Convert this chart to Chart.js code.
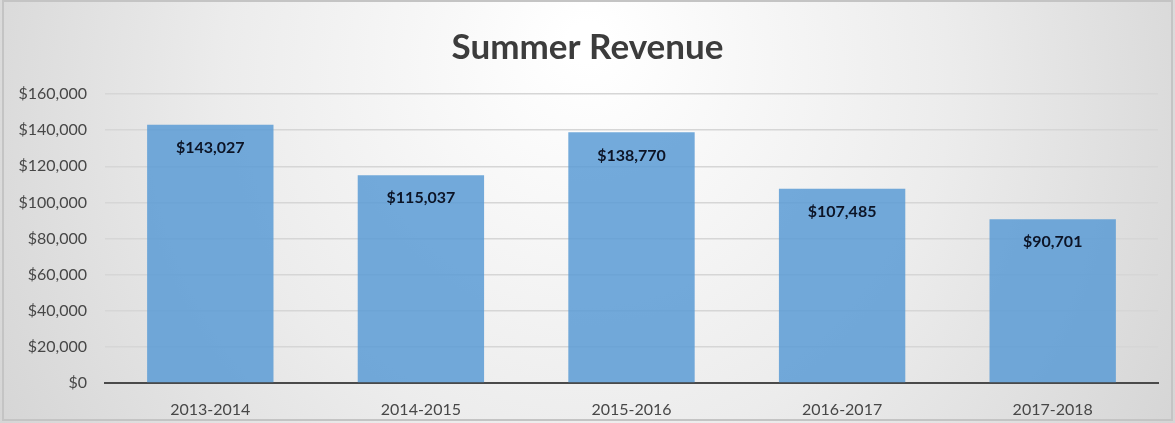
<!DOCTYPE html>
<html>
<head>
<meta charset="utf-8">
<script src="https://cdn.jsdelivr.net/npm/chart.js@4"></script>
<style>
  html, body { margin: 0; padding: 0; background: #fff; }
  #wrap { width: 1175px; height: 423px; }
</style>
</head>
<body>
<div id="wrap"><canvas id="mycanvas" width="1175" height="423"></canvas></div>
<script>
var seasons = ["2013-2014", "2014-2015", "2015-2016", "2016-2017", "2017-2018"];
var revenue = [143027, 115037, 138770, 107485, 90701];
var yTicks = [0, 20000, 40000, 60000, 80000, 100000, 120000, 140000, 160000];

function money(v) {
  return "$" + v.toLocaleString("en-US");
}

// grey backdrop, lighter toward the top middle
var backdrop = {
  id: "backdrop",
  beforeDraw: function(chart) {
    var c = chart.ctx;
    var w = chart.width, h = chart.height;
    c.save();
    var g = c.createRadialGradient(w * 0.5, h * 0.1, 20, w * 0.5, h * 0.3, w * 0.6);
    g.addColorStop(0, "#ffffff");
    g.addColorStop(0.5, "#ececec");
    g.addColorStop(1, "#d2d2d2");
    c.fillStyle = g;
    c.fillRect(0, 0, w, h);
    c.strokeStyle = "#c4c4c4";
    c.lineWidth = 2;
    c.strokeRect(3, 1, w - 6, h - 4);
    c.restore();
  }
};

// value labels just inside the top of each bar
var barLabels = {
  id: "barLabels",
  afterDatasetsDraw: function(chart) {
    var c = chart.ctx;
    var meta = chart.getDatasetMeta(0);
    c.save();
    c.font = "bold 16px Lato";
    c.fillStyle = "#0c1426";
    c.textAlign = "center";
    c.textBaseline = "middle";
    meta.data.forEach(function(bar, i) {
      c.fillText(money(revenue[i]), bar.x, bar.y + 23);
    });
    c.restore();
  }
};

var ctx = document.getElementById("mycanvas");

var chart = new Chart(ctx, {
  type: "bar",
  data: {
    labels: seasons,
    datasets: [{
      label: "Summer Revenue",
      data: revenue,
      backgroundColor: "rgba(91, 155, 213, 0.85)",
      borderWidth: 0,
      categoryPercentage: 0.6,
      barPercentage: 1.0
    }]
  },
  options: {
    responsive: false,
    animation: false,
    plugins: {
      legend: { display: false },
      tooltip: { enabled: false },
      title: {
        display: true,
        text: "Summer Revenue",
        color: "#3c3c3c",
        font: { family: "Lato", size: 35, weight: "bold" },
        padding: { top: 27, bottom: 25 }
      }
    },
    scales: {
      x: {
        grid: { display: false },
        border: { display: true, color: "#4a4a4a", width: 2 },
        ticks: {
          color: "#474747",
          font: { family: "Lato", size: 16 },
          padding: 9
        },
        afterFit: function(scale) { scale.height = 40; }
      },
      y: {
        min: 0,
        max: 160000,
        afterBuildTicks: function(scale) {
          scale.ticks = yTicks.map(function(v) { return { value: v }; });
        },
        grid: { color: "#d6d6d6", lineWidth: 1.5, drawTicks: false },
        border: { display: false },
        ticks: {
          color: "#474747",
          font: { family: "Lato", size: 16 },
          padding: 18,
          callback: function(v) { return money(v); }
        },
        afterFit: function(scale) { scale.width = 105; }
      },
      // empty strip on the right so the title stays centred on the page
      spacer: {
        position: "right",
        grid: { display: false, drawOnChartArea: false },
        border: { display: false },
        ticks: { display: false },
        afterFit: function(scale) { scale.width = 17; }
      }
    }
  },
  plugins: [backdrop, barLabels]
});
</script>
</body>
</html>
